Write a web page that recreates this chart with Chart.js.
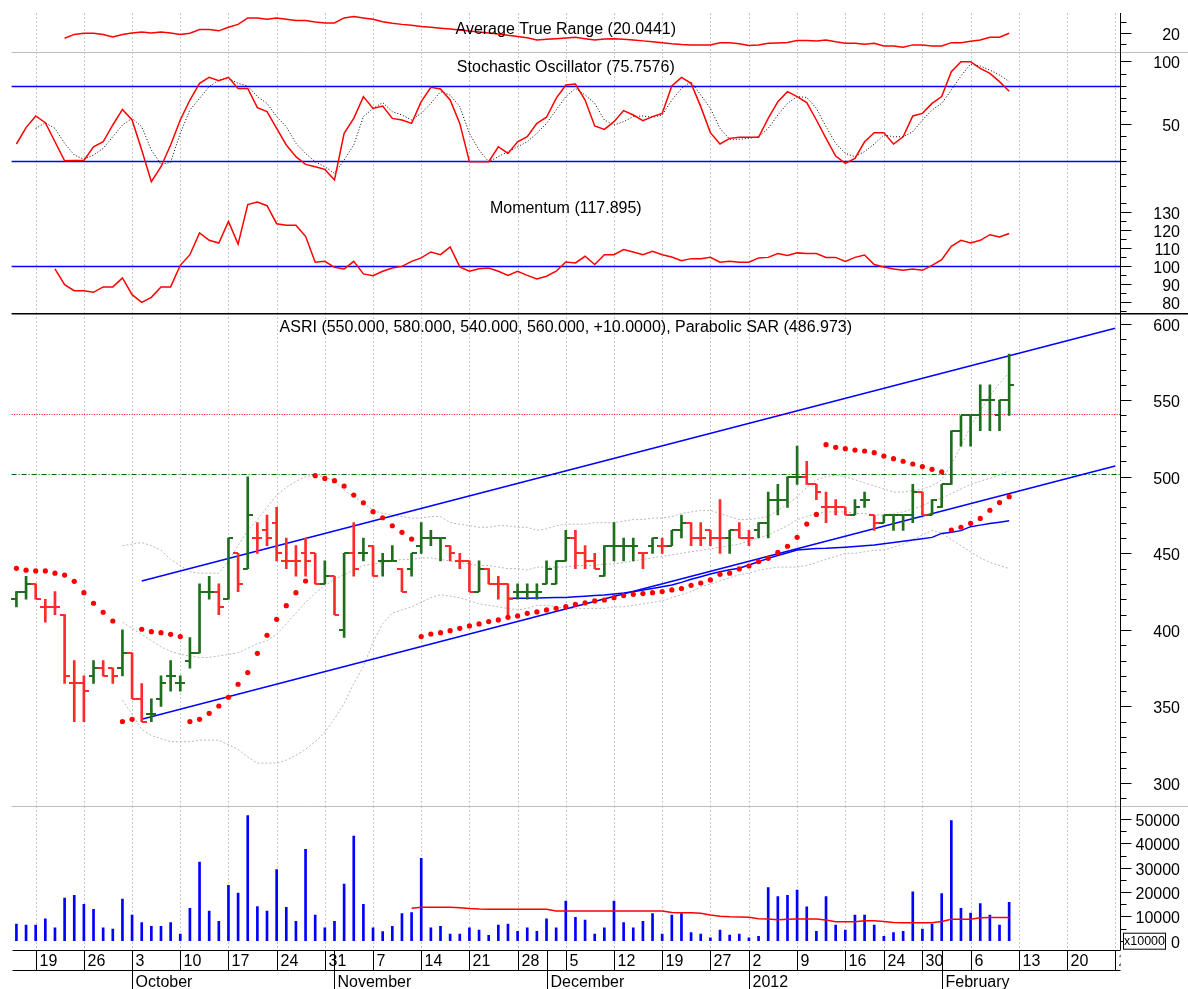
<!DOCTYPE html>
<html>
<head>
<meta charset="utf-8">
<title>ASRI</title>
<script src="https://cdn.jsdelivr.net/npm/chart.js@4.4.1/dist/chart.umd.min.js"></script>
<style>
  html, body { margin: 0; padding: 0; background: #fff; }
  #wrap { position: relative; width: 1188px; height: 989px; overflow: hidden; background: #fff; }
  #wrap canvas { position: absolute; left: 0; }
</style>
</head>
<body>
<div id="wrap">
  <canvas id="atrChart" width="1188" height="52" style="top:0px"></canvas>
  <canvas id="stoChart" width="1188" height="144" style="top:52px"></canvas>
  <canvas id="momChart" width="1188" height="117" style="top:196px"></canvas>
  <canvas id="priceChart" width="1188" height="493" style="top:313px"></canvas>
  <canvas id="volChart" width="1188" height="183" style="top:806px"></canvas>
</div>
<script>
// trading days shown on the x axis (Sep 2011 - Feb 2012), last bar is 2/10
const dates = [
  '9/15','9/16','9/19','9/20','9/21','9/22','9/23','9/26','9/27','9/28','9/29','9/30',
  '10/3','10/4','10/5','10/6','10/7','10/10','10/11','10/12','10/13','10/14','10/17','10/18','10/19','10/20','10/21',
  '10/24','10/25','10/26','10/27','10/28','10/31',
  '11/1','11/2','11/3','11/4','11/7','11/8','11/9','11/10','11/11','11/14','11/15','11/16','11/17','11/18',
  '11/21','11/22','11/23','11/24','11/25','11/28','11/29','11/30',
  '12/1','12/2','12/5','12/6','12/7','12/8','12/9','12/12','12/13','12/14','12/15','12/16',
  '12/19','12/20','12/21','12/22','12/23','12/27','12/28','12/29','12/30',
  '1/2','1/3','1/4','1/5','1/6','1/9','1/10','1/11','1/12','1/13','1/16','1/17','1/18','1/19',
  '1/24','1/25','1/26','1/27','1/30','1/31',
  '2/1','2/2','2/3','2/6','2/7','2/8','2/9','2/10','2/13','2/14','2/15','2/16','2/17',
  '2/20','2/21','2/22','2/23','2/24','2/27'
];
const weekStarts = [2, 7, 12, 17, 22, 27, 32, 37, 42, 47, 52, 57, 62, 67, 72, 76, 81, 86, 90, 94, 99, 104, 109, 114];
const monthStarts = [12, 33, 55, 76, 96];
const monthNames = ['October', 'November', 'December', '2012', 'February'];

// price bars
const opens = [
  420,425,430,415,415,410,365,365,370,375, 375,375,385,355,345,355,370,365,380,385,
  425,425,420,450,440,460,465,470,445,445, 450,450,430,435,400,450,450,455,445,445,
  440,440,455,460,460,455,445,445,425,440, 430,430,425,425,425,430,430,445,460,450,
  445,435,455,455,455,450,455,455,455,465, 470,460,465,460,460,465,460,465,470,485,
  485,500,500,495,480,480,480,475,485,475, 470,475,475,475,490,475,480,495,530,540,
  540,550,540,550
];
const highs = [
  425,435,430,420,425,410,380,370,380,380, 375,400,385,365,355,370,380,370,395,430,
  435,430,460,450,500,470,475,480,460,455, 460,450,445,435,450,470,460,455,450,455,
  440,450,470,465,460,455,450,445,445,440, 435,430,430,430,430,445,445,465,465,455,
  450,455,470,460,460,450,460,460,465,475, 470,470,465,485,465,470,465,470,490,495,
  500,520,510,495,490,485,480,485,490,475, 475,475,475,495,490,485,495,530,540,540,
  560,560,550,580
];
const lows = [
  415,420,420,405,410,365,340,340,365,370, 365,370,355,340,340,350,360,360,375,385,
  420,410,420,425,440,450,455,445,440,435, 435,430,430,410,395,435,445,435,435,445,
  425,435,450,455,445,445,440,425,425,430, 420,410,420,420,420,430,430,445,440,440,
  440,435,445,445,445,440,450,450,455,460, 455,455,455,450,450,460,455,460,460,475,
  480,495,495,485,470,475,475,475,480,465, 470,465,465,470,475,475,480,495,520,520,
  530,530,530,540
];
const closes = [
  425,430,420,415,415,370,365,360,375,370, 370,385,355,340,345,365,370,365,385,425,
  425,415,460,430,475,460,460,450,445,445, 445,430,435,410,450,440,450,435,445,445,
  425,450,460,460,460,450,445,425,440,430, 430,420,425,425,425,440,445,460,450,445,
  440,455,455,455,455,450,460,455,465,470, 460,460,460,460,465,460,460,470,485,485,
  500,500,495,490,480,480,475,480,485,470, 475,475,475,490,475,485,495,530,540,540,
  550,550,550,560
];
// 1 = bar drawn green (up), 0 = bar drawn red (down)
const rising = [
  1,1,0,0,0,0,0,0,1,0, 0,1,0,0,1,1,1,1,1,1, 1,0,1,0,1,0,0,0,0,0, 0,0,1,0,1,0,1,0,1,1,
  0,1,1,1,1,0,0,0,1,0, 0,0,1,1,1,1,1,1,0,0, 0,1,1,1,1,0,1,0,1,1, 0,0,0,0,1,0,0,1,1,1,
  1,1,0,0,0,0,0,1,1,0, 1,1,1,1,0,1,1,1,1,1, 1,1,1,1
];

// parabolic SAR
const sar = [
  440.2,439,438.5,438.5,437,435.8,431.7,424.3,417.4,411.5, 405.8,340.1,341.6,400.4,398.8,398.2,397.1,395.6,340.1,341.6,
  345.5,350.3,356,364.5,372.1,384.7,396.5,406.9,415.8,424.3, 431.9,500.7,498.9,497.4,493.9,488,483,477.2,473.2,468,
  463.7,459.3,395.6,397.3,398.2,399.5,401,402.6,403.9,405.4, 406.5,408.2,409.1,410.8,411.7,413,414.1,415.2,416.7,417.6,
  418.9,419.5,421,422.4,423.2,423.7,424.3,425,426.1,427, 429.1,430.6,432.6,436.3,437,439.8,441.7,444.6,446.7,450.6,
  454.6,460.4,469.1,475.4,520.9,519.2,518.3,517.4,516.8,515.7, 513.5,511.8,510.1,508.3,506.6,504.8,503.1,465.2,467,469.6,
  472.8,478.1,483.1,487
];

// bollinger bands (from bar 11)
const bandStart = 11;
const bandUpper = [
  455,456,457,455,452,446,442,438,437,
  437,437,445,455,465,472,480,488,493,497, 500,501,500,497,491,487,483,478,476,475,
  474,473,473,474,474,470,469,468,467,467, 468,468,467,467,465,466,468,469,469,469,
  470,470,470,471,472,472,473,473,474,476, 477,478,478,476,474,472,472,473,474,478,
  482,487,493,498,500,501,500,498,496,494, 492,490,490,491,492,494,498,508,520,533,
  543,553,561,568
];
const bandMiddle = [
  405,401,397,393,389,386,384,383,382,
  382,383,384,385,388,391,393,397,404,411, 418,424,429,433,436,439,442,443,444,445,
  446,446,447,447,446,445,444,443,442,442, 441,440,440,439,441,441,441,441,442,442,
  442,443,443,444,445,446,447,448,449,450, 451,452,453,454,455,456,458,460,462,465,
  468,472,474,476,477,477,477,476,476,475, 475,476,477,479,481,484,486,489,492,495,
  497,499,501,504
];
const bandLower = [
  354,345,335,331,329,327,327,327,328,
  328,328,325,322,317,313,313,313,315,318, 322,327,333,342,352,365,376,392,404,411,
  413,415,418,421,423,422,421,419,417,416, 415,414,413,414,416,416,415,414,414,414,
  414,414,415,415,416,417,418,419,421,423, 425,428,430,432,434,436,437,439,440,441,
  441,441,442,444,446,448,450,450,451,452, 452,454,456,459,462,465,463,459,455,451,
  447,444,442,440
];

// moving average (from bar 51)
const maStart = 51;
const maValues = [
  420.6,420.6,420.7,420.8,421.0,421.1,421.2,421.6,422.0,
  422.4,422.8,423.4,424.0,424.9,426.0,427.0,428.2,429.3,431.0,
  433.0,434.7,436.5,438.0,439.2,440.2,442.4,444.5,446.7,448.5,
  450.3,452.1,452.7,453.2,453.3,453.6,454.0,454.5,455.0,455.4,
  456.2,457.0,457.9,458.7,459.5,460.4,463.0,463.8,464.8,467.4,
  468.4,469.4,470.3,471.3
];

// trend channel, drawn between two bars
const trendSpan = [13, 114];
const upperTrend = [431.9, 597];
const lowerTrend = [341.7, 507];
const priceLevels = [541, 501.5];

// average true range (from bar 5)
const atrStart = 5;
const atrValues = [
  17.8,19.5,20.0,20.0,19.5,18.4,19.5,20.1,20.6,20.1,
  20.6,20.1,19.5,20.0,21.7,21.7,21.1,22.7,24.0,26.9,
  26.9,26.3,26.9,26.3,25.7,25.7,25.1,24.6,24.6,26.9,
  27.5,26.9,26.3,25.2,24.5,24.0,23.6,23.1,22.7,22.3,
  21.9,21.5,21.0,20.6,20.1,19.7,19.1,18.6,18.0,17.0,
  17.3,17.6,17.9,18.2,17.6,17.0,17.4,17.6,17.3,17.0,
  16.6,16.2,15.8,15.3,15.0,14.8,14.8,14.8,15.8,15.8,
  15.3,14.5,14.8,15.5,15.7,15.9,16.8,16.8,16.5,17.0,
  16.2,15.5,15.5,15.1,15.5,14.3,14.3,13.7,14.8,14.8,
  14.3,14.3,15.8,15.8,16.4,17.0,18.2,18.2,20.04
];

// stochastic %K and %D (%D from bar 2)
const stochK = [
  33.6,46.7,56.0,50.6,35.4,20.2,20.4,20.4,31.4,35.4, 48.8,61.3,52.8,28.8,3.4,15.4,32.8,52.8,68.8,82.1,
  86.9,84.3,86.9,78.1,78.1,62.7,59.5,46.1,32.8,23.5, 17.3,15.4,13.3,4.8,42.1,54.1,71.5,62.1,64.0,54.1,
  52.8,50.1,67.5,79.0,77.6,68.8,50.1,19.4,19.4,19.4, 31.4,26.1,35.4,39.4,50.1,55.0,70.1,80.8,81.6,68.8,
  48.0,45.3,51.5,60.3,56.8,52.3,55.5,58.1,80.0,86.9, 82.1,63.5,42.7,33.6,38.1,39.0,39.0,39.0,54.1,67.5,
  75.5,71.5,66.7,52.8,38.1,24.0,18.1,22.1,35.4,42.7, 42.7,33.6,39.4,56.0,58.1,66.1,71.5,91.5,99.5,99.5,
  94.1,90.1,83.5,75.76
];
const stochDStart = 2;
const stochD = [
  46.1,50.6,46.1,34.1,24.8,21.4,24.8,30.1,
  39.4,48.8,54.1,47.4,28.8,17.3,19.0,42.1,60.8,70.1, 79.5,84.8,86.1,82.1,80.0,71.5,66.1,55.5,47.4,34.1,
  26.1,19.4,15.4,10.1,20.8,32.8,55.5,62.1,66.7,59.5, 56.8,52.8,58.1,66.1,75.5,72.8,63.5,42.1,28.8,19.4,
  23.5,27.5,31.4,35.4,42.1,50.1,60.8,71.5,78.1,72.8, 66.1,52.8,48.8,51.5,55.5,56.0,55.0,56.8,68.8,78.1,
  83.5,72.8,62.1,46.1,37.4,37.4,38.1,39.4,46.1,56.8, 66.1,71.5,70.9,62.1,47.4,34.1,26.1,23.5,27.5,33.6,
  40.8,39.4,39.4,43.5,52.8,60.8,66.1,76.8,88.0,97.6, 96.0,92.8,88.8,83.5
];
const stochLevels = [80, 20];

// momentum (from bar 4)
const momStart = 4;
const momValues = [
  98.2,89.4,86.1,86.1,85.2,88.2,
  88.2,93.2,83.9,79.6,82.4,88.2,88.2,100.2,106.1,118.2, 114.1,112.6,124.6,112.0,133.9,135.4,133.3,123.3,122.4,122.4,
  116.3,101.9,102.4,99.1,98.2,102.4,95.4,94.4,96.9,98.7, 99.6,102.4,104.3,107.6,106.1,110.4,99.3,96.9,98.3,98.7,
  96.9,94.6,96.9,94.6,92.6,94.1,96.9,102.0,101.5,105.2, 100.6,106.1,106.1,108.9,107.6,106.1,108.0,106.1,104.8,102.8,
  103.9,103.9,104.6,101.9,102.4,101.9,101.9,104.3,104.6,106.7, 105.6,107.1,106.7,106.7,104.6,104.6,102.4,104.6,105.9,100.6,
  99.3,98.2,97.4,98.2,97.4,100.2,103.3,110.7,114.1,112.6, 114.1,117.2,116.0,117.9
];
const momLevels = [100];

// volume (x10000) and its average (from bar 41)
const volume = [
  6800,6400,6400,9000,5300,17500,18600,14900,12900,5300, 4800,17100,10500,7400,5900,5900,7400,2700,13300,32300,
  12200,8000,22700,19600,51400,14000,12200,29200,13700,8000, 37500,10500,5300,8000,23300,43000,14900,5300,3700,5900,
  11100,11600,33800,5300,5900,2700,2700,5300,4400,2200, 6400,6800,3800,5300,3800,9000,5300,16300,9600,8500,
  2700,5300,16300,7400,5300,8000,11100,2700,10500,11100, 3300,2700,1200,4400,2300,2700,1200,1800,21800,18100,
  18600,20800,13900,3800,18100,6400,4400,10500,10500,6400, 1800,3300,3800,20100,4800,6800,19400,49300,13300,11300,
  15300,10500,6400,15800
];
const volMaStart = 41;
const volMa = [
  13300,13700,13700,13700,13700,13500,13200,13000,12900,
  12900,12900,12900,12900,12900,12900,12200,12200,12200,12200,
  12200,12200,12200,12200,12200,12200,12200,12200,11600,11500,
  11500,11300,10600,10000,9800,9700,9600,9000,8900,8600,
  8800,8900,8900,8900,8500,7800,7800,7800,8200,8200,
  7900,7500,7400,7400,7400,7400,7900,8800,8800,8800,
  9400,9500,9500,9500
];

// axis tick labels per panel
const atrTicks = [20];
const stoTicks = [100, 50];
const momTicks = [130, 120, 110, 100, 90, 80];
const priceTicks = [600, 550, 500, 450, 400, 350, 300];
const volTicks = [50000, 40000, 30000, 20000, 10000, 0];

const FONT = '"Liberation Sans", Arial, sans-serif';
const GREEN = '#1e6e1e';
const RED = '#ff2b2b';
const BLUE = '#0000ff';

const lead = (n, vals) => new Array(n).fill(null).concat(vals);
const range = (a, b, step) => { const out = []; for (let v = a; v <= b; v += step) out.push(v); return out; };
const minorOf = (a, b, step, major) => range(a, b, step).filter(v => !major.includes(v));

// little images for the open (left) and close (right) ticks of each bar
function tickMark(color, side) {
  const c = document.createElement('canvas');
  c.width = 10; c.height = 2;
  const g = c.getContext('2d');
  g.fillStyle = color;
  g.fillRect(side === 'left' ? 0 : 5, 0, 5, 2);
  return c;
}
const openUp = tickMark(GREEN, 'left'), openDown = tickMark(RED, 'left');
const closeUp = tickMark(GREEN, 'right'), closeDown = tickMark(RED, 'right');

const weekGrid = {
  id: 'weekGrid',
  beforeDatasetsDraw(chart) {
    const { ctx, chartArea: a, scales: { x } } = chart;
    ctx.save();
    ctx.strokeStyle = '#c8c8c8';
    ctx.lineWidth = 1;
    ctx.setLineDash([2, 2]);
    weekStarts.forEach(i => {
      const px = Math.round(x.getPixelForValue(i)) + 0.5;
      ctx.beginPath(); ctx.moveTo(px, a.top); ctx.lineTo(px, a.bottom); ctx.stroke();
    });
    ctx.restore();
  }
};

const refLines = {
  id: 'refLines',
  beforeDatasetsDraw(chart, args, opts) {
    if (!opts.lines) return;
    const { ctx, chartArea: a, scales: { y } } = chart;
    ctx.save();
    opts.lines.forEach(l => {
      const py = Math.round(y.getPixelForValue(l.value)) + 0.5;
      ctx.strokeStyle = l.color;
      ctx.lineWidth = l.width || 1;
      ctx.setLineDash(l.dash || []);
      ctx.beginPath(); ctx.moveTo(a.left, py); ctx.lineTo(a.right, py); ctx.stroke();
    });
    ctx.restore();
  }
};

const rightAxis = {
  id: 'rightAxis',
  afterDraw(chart, args, opts) {
    if (!opts.labels) return;
    const { ctx, chartArea: a, scales: { y } } = chart;
    const sx = Math.round(a.right) + 0.5;
    ctx.save();
    if (opts.topLine) {
      ctx.strokeStyle = opts.topLine.color;
      ctx.lineWidth = opts.topLine.width;
      ctx.beginPath(); ctx.moveTo(a.left, a.top + opts.topLine.width / 2); ctx.lineTo(chart.width, a.top + opts.topLine.width / 2); ctx.stroke();
    }
    ctx.strokeStyle = '#000';
    ctx.lineWidth = 1;
    ctx.beginPath(); ctx.moveTo(sx, a.top); ctx.lineTo(sx, a.bottom + (opts.extend || 0)); ctx.stroke();
    ctx.font = '16px ' + FONT;
    ctx.fillStyle = '#000';
    ctx.textAlign = 'right';
    ctx.textBaseline = 'alphabetic';
    opts.minor.forEach(v => {
      const py = Math.round(y.getPixelForValue(v)) + 0.5;
      ctx.beginPath(); ctx.moveTo(sx, py); ctx.lineTo(sx + 6, py); ctx.stroke();
    });
    opts.labels.forEach(v => {
      const py = Math.round(y.getPixelForValue(v)) + 0.5;
      ctx.beginPath(); ctx.moveTo(sx, py); ctx.lineTo(sx + 11, py); ctx.stroke();
      ctx.fillText(String(v), 1180, py + 6);
    });
    if (opts.multiplier) {
      const py = y.getPixelForValue(0);
      ctx.fillStyle = '#fff';
      ctx.fillRect(1123.5, py - 7.5, 42, 16);
      ctx.strokeRect(1123.5, py - 7.5, 42, 16);
      ctx.fillStyle = '#000';
      ctx.font = '12.5px ' + FONT;
      ctx.textAlign = 'center';
      ctx.fillText(opts.multiplier, 1144.5, py + 4.5);
    }
    ctx.restore();
  }
};

const panelTitle = {
  id: 'panelTitle',
  afterDraw(chart, args, opts) {
    if (!opts.text) return;
    const { ctx, chartArea: a } = chart;
    ctx.save();
    ctx.font = '16px ' + FONT;
    ctx.fillStyle = '#000';
    ctx.textAlign = 'center';
    ctx.textBaseline = 'alphabetic';
    ctx.fillText(opts.text, (a.left + a.right) / 2, opts.y);
    ctx.restore();
  }
};

const dateStrip = {
  id: 'dateStrip',
  afterDraw(chart, args, opts) {
    if (!opts.show) return;
    const { ctx, chartArea: a, scales: { x } } = chart;
    const top = Math.round(a.bottom) + 2.5, mid = top + 20, bottom = chart.height;
    const left = Math.round(a.left) + 0.5, right = Math.round(a.right) + 0.5;
    ctx.save();
    ctx.strokeStyle = '#000';
    ctx.lineWidth = 1;
    ctx.beginPath();
    ctx.moveTo(left, top); ctx.lineTo(right, top);
    ctx.moveTo(left, mid); ctx.lineTo(right, mid);
    ctx.stroke();
    ctx.beginPath(); ctx.rect(0, top - 1, right, bottom - top + 1); ctx.clip();
    ctx.font = '16px ' + FONT;
    ctx.fillStyle = '#000';
    ctx.textAlign = 'left';
    ctx.textBaseline = 'alphabetic';
    weekStarts.forEach(i => {
      const px = Math.round(x.getPixelForValue(i)) + 0.5;
      ctx.beginPath(); ctx.moveTo(px, top); ctx.lineTo(px, mid); ctx.stroke();
      ctx.fillText(dates[i].split('/')[1], px + 3, top + 15.5);
    });
    monthStarts.forEach((i, k) => {
      const px = Math.round(x.getPixelForValue(i)) + 0.5;
      ctx.beginPath(); ctx.moveTo(px, top); ctx.lineTo(px, bottom); ctx.stroke();
      ctx.fillText(monthNames[k], px + 3, mid + 16);
    });
    ctx.restore();
  }
};

Chart.register(weekGrid, refLines, rightAxis, panelTitle, dateStrip);

function panelOptions(min, max, padTop, padBottom, plugins) {
  return {
    responsive: false,
    animation: false,
    events: [],
    layout: { autoPadding: false, padding: { left: 11.6, right: 68, top: padTop, bottom: padBottom } },
    scales: {
      x: { type: 'category', offset: true, display: false },
      y: { type: 'linear', min: min, max: max, display: false }
    },
    plugins: Object.assign({ legend: { display: false }, tooltip: { enabled: false } }, plugins)
  };
}

const redLine = (data) => ({ data: data, borderColor: '#ff0000', borderWidth: 1.5, pointRadius: 0 });

// Average True Range
new Chart(document.getElementById('atrChart'), {
  type: 'line',
  data: { labels: dates, datasets: [redLine(lead(atrStart, atrValues))] },
  options: panelOptions(11.61, 29.1, 13, 0, {
    rightAxis: { labels: atrTicks, minor: [15, 25] },
    panelTitle: { text: 'Average True Range (20.0441)', y: 34.3 }
  })
});

// Stochastic Oscillator
new Chart(document.getElementById('stoChart'), {
  type: 'line',
  data: {
    labels: dates,
    datasets: [
      redLine(stochK),
      { data: lead(stochDStart, stochD), borderColor: '#000', borderWidth: 1, borderDash: [1, 2], pointRadius: 0 }
    ]
  },
  options: panelOptions(-8, 107.2, 0, 0, {
    refLines: { lines: stochLevels.map(v => ({ value: v, color: BLUE, width: 1.5 })) },
    rightAxis: { labels: stoTicks, minor: minorOf(0, 90, 10, stoTicks), topLine: { color: '#bdbdbd', width: 1 } },
    panelTitle: { text: 'Stochastic Oscillator (75.7576)', y: 20.3 }
  })
});

// Momentum
new Chart(document.getElementById('momChart'), {
  type: 'line',
  data: { labels: dates, datasets: [redLine(lead(momStart, momValues))] },
  options: panelOptions(73.7, 138.7, 0, 0, {
    refLines: { lines: momLevels.map(v => ({ value: v, color: BLUE, width: 1.5 })) },
    rightAxis: { labels: momTicks, minor: minorOf(75, 135, 5, momTicks) },
    panelTitle: { text: 'Momentum (117.895)', y: 17.3 }
  })
});

// Price bars with SAR, bands, average and channel
const band = (vals) => ({ data: lead(bandStart, vals), borderColor: '#b8b8b8', borderWidth: 1, borderDash: [2, 2], pointRadius: 0 });
const trend = (vals) => ({
  data: trendSpan.map((i, k) => ({ x: dates[i], y: vals[k] })),
  borderColor: BLUE, borderWidth: 1.5, pointRadius: 0
});
new Chart(document.getElementById('priceChart'), {
  type: 'line',
  data: {
    labels: dates,
    datasets: [
      { data: sar, showLine: false, pointRadius: 2.6, pointBackgroundColor: '#ff0000', pointBorderWidth: 0, borderColor: '#ff0000' },
      { data: opens, showLine: false, pointRadius: 3, pointStyle: c => rising[c.dataIndex] ? openUp : openDown },
      { data: closes, showLine: false, pointRadius: 3, pointStyle: c => rising[c.dataIndex] ? closeUp : closeDown },
      {
        type: 'bar',
        data: lows.map((l, i) => [l, highs[i]]),
        barThickness: 2,
        borderWidth: 0,
        backgroundColor: c => rising[c.dataIndex] ? GREEN : RED
      },
      { data: lead(maStart, maValues), borderColor: BLUE, borderWidth: 1.5, pointRadius: 0 },
      trend(upperTrend),
      trend(lowerTrend),
      band(bandUpper),
      band(bandMiddle),
      band(bandLower)
    ]
  },
  options: panelOptions(285, 606.9, 0, 0, {
    refLines: {
      lines: [
        { value: priceLevels[0], color: '#ff0000', dash: [1, 1.5], width: 1 },
        { value: priceLevels[1], color: '#006400', dash: [5, 2, 1, 2], width: 1 }
      ]
    },
    rightAxis: { labels: priceTicks, minor: minorOf(290, 600, 10, priceTicks), topLine: { color: '#000', width: 1.5 } },
    panelTitle: { text: 'ASRI (550.000, 580.000, 540.000, 560.000, +10.0000), Parabolic SAR (486.973)', y: 19.3 }
  })
});

// Volume
new Chart(document.getElementById('volChart'), {
  type: 'bar',
  data: {
    labels: dates,
    datasets: [
      { type: 'line', data: lead(volMaStart, volMa), borderColor: '#ff0000', borderWidth: 1.5, pointRadius: 0 },
      { data: volume, barThickness: 2, borderWidth: 0, backgroundColor: BLUE }
    ]
  },
  options: panelOptions(-3000, 55340, 0, 41, {
    rightAxis: {
      labels: volTicks, minor: minorOf(5000, 45000, 5000, volTicks),
      topLine: { color: '#bdbdbd', width: 1 }, extend: 2, multiplier: 'x10000'
    },
    dateStrip: { show: true }
  })
});
</script>
</body>
</html>
